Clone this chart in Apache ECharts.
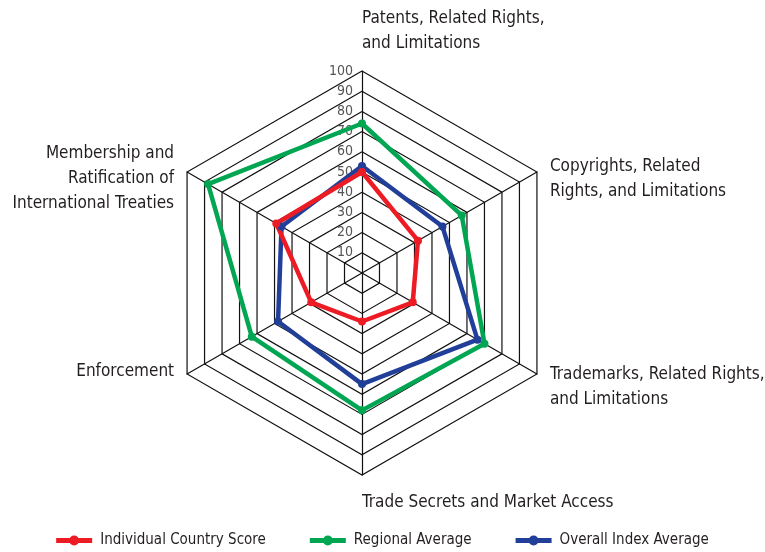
<!DOCTYPE html>
<html>
<head>
<meta charset="utf-8">
<script src="https://cdn.jsdelivr.net/npm/echarts@6/dist/echarts.min.js"></script>
<style>
  html, body { margin: 0; padding: 0; background: #fff; }
  #main { width: 765px; height: 552px; }
</style>
</head>
<body>
<div id="main"></div>
<script>
// indicators in ECharts order (top, then counter-clockwise)
var indicators = [
  'Patents, Related Rights,\nand Limitations',
  'Membership and\nRatification of\nInternational Treaties',
  'Enforcement',
  'Trade Secrets and Market Access',
  'Trademarks, Related Rights,\nand Limitations',
  'Copyrights, Related\nRights, and Limitations'
];
var seriesNames = ['Individual Country Score', 'Regional Average', 'Overall Index Average'];
var individualScore = [50, 49, 29, 24, 29, 32];
var regionalAverage = [74, 88, 63, 68, 70, 57];
var overallAverage = [53, 46, 48, 55, 66, 46];

var FONT = '"Liberation Sans Narrow", "DejaVu Sans Condensed", sans-serif';
var colors = { red: '#ed1c24', green: '#00a651', blue: '#213f99' };

// alignment of each indicator name, plus a spacer above (+) or below (-) to nudge it vertically
var nameAligns = ['left', 'right', 'right', 'left', 'left', 'left'];
var nameVAligns = ['bottom', 'middle', 'middle', 'top', 'middle', 'middle'];
var nameNudge = [0, 28, -20, 0, 12, 30];

var chart = echarts.init(document.getElementById('main'));

var legendIcon = 'path://M0,7.5 L36,7.5 L36,12.5 L0,12.5 Z M18,5 A5,5 0 1,1 17.99,5 Z';

function makeSeries(name, values, color) {
  return {
    name: name,
    type: 'radar',
    symbol: 'circle',
    symbolSize: 8,
    lineStyle: { color: color, width: 4.5 },
    itemStyle: { color: color },
    data: [{ value: values, name: name }]
  };
}

var option = {
  backgroundColor: '#ffffff',
  animation: false,
  legend: {
    data: seriesNames,
    top: 528,
    left: 'center',
    itemWidth: 36,
    itemHeight: 10,
    itemGap: 44,
    icon: legendIcon,
    textStyle: { fontFamily: FONT, fontSize: 15, color: '#231f20', padding: [0, 0, 0, 3] }
  },
  radar: {
    center: [362, 273],
    radius: 202,
    startAngle: 90,
    shape: 'polygon',
    splitNumber: 10,
    nameGap: 15,
    axisName: {
      color: '#231f20',
      fontFamily: FONT,
      fontSize: 17,
      lineHeight: 25,
      formatter: function (name) {
        var i = indicators.indexOf(name);
        var n = nameNudge[i];
        if (n > 0) return '{g| }\n' + name;
        if (n < 0) return name + '\n{h| }';
        return name;
      },
      rich: {
        g: { height: 1, lineHeight: 1, fontSize: 1 },
        h: { height: 1, lineHeight: 1, fontSize: 1 }
      }
    },
    splitArea: { show: false },
    splitLine: { lineStyle: { color: '#111', width: 1.2 } },
    axisLine: { lineStyle: { color: '#111', width: 1.2 } },
    axisTick: { show: false },
    axisLabel: { show: false },
    indicator: indicators.map(function (name, i) {
      var ind = {
        name: name, max: 100, min: 0,
        nameTextStyle: { align: nameAligns[i], verticalAlign: nameVAligns[i] }
      };
      if (i === 0) {
        ind.axisLabel = {
          show: true,
          showMinLabel: false,
          margin: 9,
          align: 'right',
          color: '#555',
          fontFamily: FONT,
          fontSize: 14
        };
      }
      return ind;
    })
  },
  series: [
    makeSeries(seriesNames[1], regionalAverage, colors.green),
    makeSeries(seriesNames[2], overallAverage, colors.blue),
    makeSeries(seriesNames[0], individualScore, colors.red)
  ]
};

// spacer heights per indicator (rich styles are shared, so set them from the nudges)
option.radar.axisName.formatter = function (name) {
  var i = indicators.indexOf(name);
  var n = nameNudge[i];
  if (n > 0) return '{g' + i + '| }\n' + name;
  if (n < 0) return name + '\n{g' + i + '| }';
  return name;
};
nameNudge.forEach(function (n, i) {
  if (n !== 0) {
    option.radar.axisName.rich['g' + i] = { height: Math.abs(n), lineHeight: Math.abs(n), fontSize: 1 };
  }
});

chart.setOption(option);
</script>
</body>
</html>
